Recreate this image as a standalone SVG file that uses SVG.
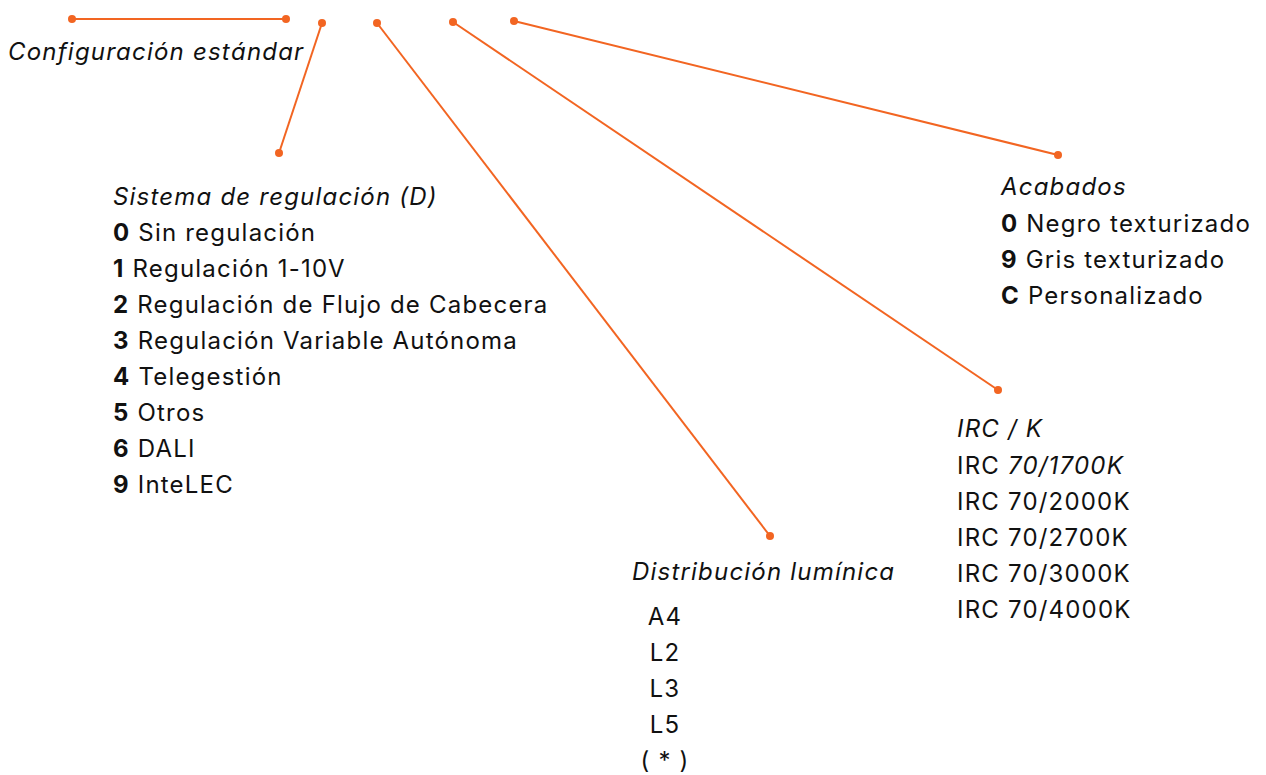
<svg xmlns="http://www.w3.org/2000/svg" width="1266" height="775" viewBox="0 0 1266 775">
<style>
text{font-family:Inter,"Noto Sans","Liberation Sans",sans-serif;font-size:24px;letter-spacing:1.2px;fill:#111}
.i{font-style:italic}
.b{font-weight:bold}
.c{stroke:#f26522;stroke-width:2;fill:none}
.d{fill:#f26522}
</style>
<rect width="1266" height="775" fill="#fff"/>
<g id="connectors">
<line class="c" x1="72" y1="19" x2="286" y2="19"/>
<circle class="d" cx="72" cy="19" r="4"/><circle class="d" cx="286" cy="19" r="4"/>
<line class="c" x1="322" y1="23" x2="279" y2="153"/>
<circle class="d" cx="322" cy="23" r="4"/><circle class="d" cx="279" cy="153" r="4"/>
<line class="c" x1="377" y1="23" x2="770" y2="536"/>
<circle class="d" cx="377" cy="23" r="4"/><circle class="d" cx="770" cy="536" r="4"/>
<line class="c" x1="453" y1="22" x2="998" y2="390"/>
<circle class="d" cx="453" cy="22" r="4"/><circle class="d" cx="998" cy="390" r="4"/>
<line class="c" x1="514" y1="21" x2="1058" y2="155"/>
<circle class="d" cx="514" cy="21" r="4"/><circle class="d" cx="1058" cy="155" r="4"/>
</g>
<g id="config"><text class="i" x="8" y="60">Configuración estándar</text></g>
<g id="regulacion">
<text class="i" x="113" y="205">Sistema de regulación (D)</text>
<text x="113" y="241"><tspan class="b">0</tspan> Sin regulación</text>
<text x="113" y="277"><tspan class="b">1</tspan> Regulación 1-10V</text>
<text x="113" y="313"><tspan class="b">2</tspan> Regulación de Flujo de Cabecera</text>
<text x="113" y="349"><tspan class="b">3</tspan> Regulación Variable Autónoma</text>
<text x="113" y="385"><tspan class="b">4</tspan> Telegestión</text>
<text x="113" y="421"><tspan class="b">5</tspan> Otros</text>
<text x="113" y="457"><tspan class="b">6</tspan> DALI</text>
<text x="113" y="493"><tspan class="b">9</tspan> InteLEC</text>
</g>
<g id="distribucion">
<text class="i" x="632" y="580">Distribución lumínica</text>
<text x="665" y="625" text-anchor="middle">A4</text>
<text x="665" y="661" text-anchor="middle">L2</text>
<text x="665" y="697" text-anchor="middle">L3</text>
<text x="665" y="733" text-anchor="middle">L5</text>
<text x="665" y="769" text-anchor="middle">( * )</text>
</g>
<g id="irc">
<text class="i" x="957" y="437">IRC / K</text>
<text x="957" y="474">IRC <tspan class="i">70/1700K</tspan></text>
<text x="957" y="510">IRC 70/2000K</text>
<text x="957" y="546">IRC 70/2700K</text>
<text x="957" y="582">IRC 70/3000K</text>
<text x="957" y="618">IRC 70/4000K</text>
</g>
<g id="acabados">
<text class="i" x="1001" y="195">Acabados</text>
<text x="1001" y="232"><tspan class="b">0</tspan> Negro texturizado</text>
<text x="1001" y="268"><tspan class="b">9</tspan> Gris texturizado</text>
<text x="1001" y="304"><tspan class="b">C</tspan> Personalizado</text>
</g>
</svg>
